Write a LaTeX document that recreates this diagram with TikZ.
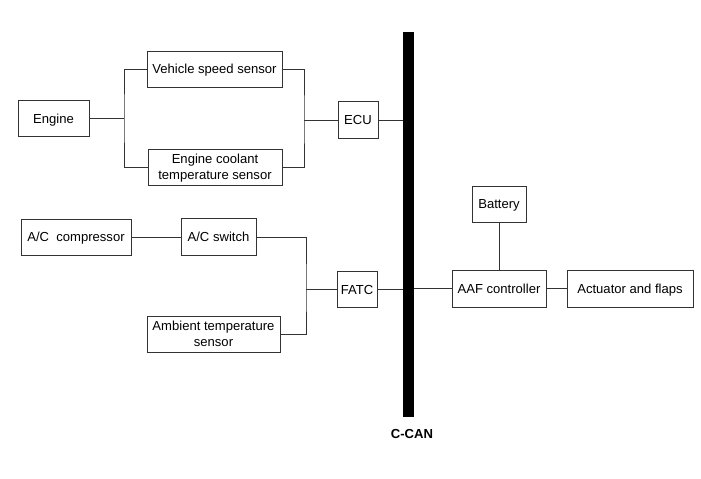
\documentclass[tikz,border=0pt]{standalone}
\usepackage{fontspec}
\setmainfont{Liberation Sans}
\begin{document}
\begin{tikzpicture}[x=0.75pt,y=-0.75pt,
  bx/.style 2 args={draw=black!80, line width=0.75pt, rectangle, inner sep=0pt,
    minimum width=#1*0.75pt, minimum height=#2*0.75pt, align=center,
    text height=7pt, text depth=0pt,
    font=\fontsize{9.8pt}{12pt}\selectfont},
  two/.style={text height=19pt, text depth=0pt},
  ln/.style={draw=black!80, line width=0.75pt}]
\useasboundingbox[fill=white] (0,0) rectangle (701,479);
% nodes
\node[bx={71}{36}] (eng) at (53.5,118.5) {Engine};
\node[bx={135}{36}] (vss) at (214.5,69) {Vehicle speed sensor};
\node[bx={134}{36}, two] (ect) at (215,167) {Engine coolant\\temperature sensor};
\node[bx={40}{37}] (ecu) at (358,120) {ECU};
\node[bx={110}{36}] (acc) at (76,237) {A/C\ \ compressor};
\node[bx={75}{37}] (acs) at (218.5,237) {A/C switch};
\node[bx={133}{36}, two] (amb) at (213.5,334) {Ambient temperature\\sensor};
\node[bx={40}{36}] (fatc) at (357,289.5) {FATC};
\node[draw=none, fill=black, inner sep=0pt, minimum width=11*0.75pt, minimum height=385*0.75pt] (bus) at (408.5,224.5) {};
\node[bx={54}{36}] (bat) at (499,204) {Battery};
\node[bx={94}{37}] (aaf) at (499,288.5) {AAF controller};
\node[bx={126}{37}] (act) at (630,288.5) {Actuator and flaps};
\node[font=\fontsize{9.8pt}{12pt}\selectfont\bfseries] (can) at (412,434) {C-CAN};
% junctions
\coordinate (j1) at (124,118.5);
\coordinate (j2) at (304,120);
\coordinate (j3) at (306,289.5);
% connectors
\draw[ln] (eng.east) -- (j1);
\draw[ln] (vss.west) -| (j1) |- (ect.west);
\draw[ln] (vss.east) -| (j2) |- (ect.east);
\draw[ln] (j2) -- (ecu.west);
\draw[ln] (ecu.east) -- (ecu.east -| bus.west);
\draw[ln] (acc.east) -- (acs.west);
\draw[ln] (acs.east) -| (j3) |- (amb.east);
\draw[ln] (j3) -- (fatc.west);
\draw[ln] (fatc.east) -- (fatc.east -| bus.west);
\draw[ln] (aaf.west -| bus.east) -- (aaf.west);
\draw[ln] (bat.south) -- (aaf.north);
\draw[ln] (aaf.east) -- (act.west);
\end{tikzpicture}
\end{document}
